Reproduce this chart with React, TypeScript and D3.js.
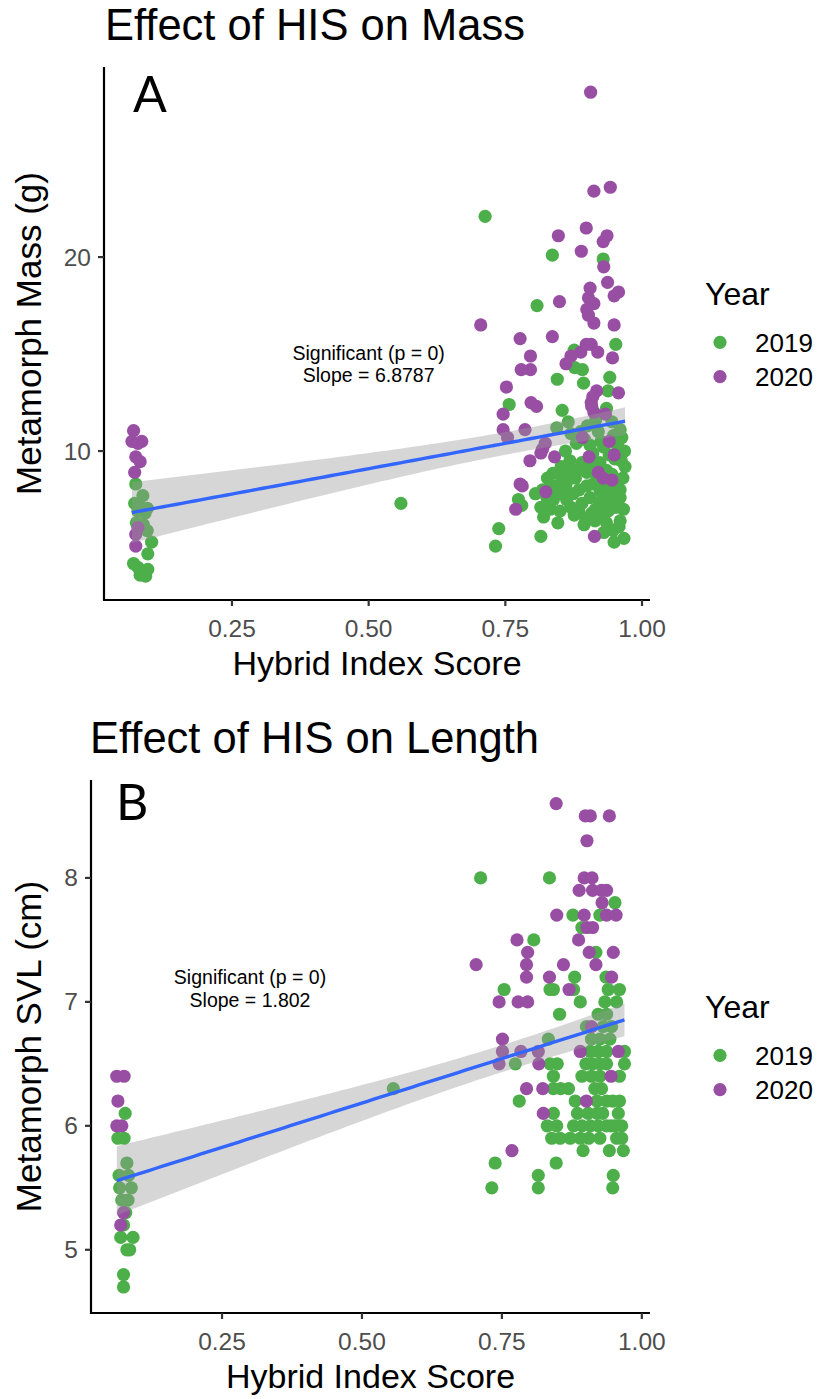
import React from 'react';
import * as d3 from 'd3';

type Pt = [number, number];

const YEARS = ['2019', '2020'];
const YEAR_COLORS = ['#4DAF4A', '#984EA3'];

const X_TICKS = [0.25, 0.5, 0.75, 1.0];
const MASS_TICKS = [10, 20];
const SVL_TICKS = [5, 6, 7, 8];

// Metamorph mass (g) against hybrid index score, 2019 cohort
const mass2019: Pt[] = [
  [0.074, 8.3], [0.087, 7.7], [0.072, 7.3], [0.082, 7.1], [0.095, 7.05], [0.078, 6.9], [0.091, 6.8],
  [0.075, 6.3], [0.088, 6.2], [0.095, 5.9], [0.103, 5.3], [0.096, 4.7], [0.070, 4.2], [0.078, 4.0],
  [0.088, 3.8], [0.096, 3.9], [0.082, 3.6], [0.092, 3.55],
  [0.559, 7.3],
  [0.713, 22.1], [0.836, 20.1], [0.929, 19.9], [0.808, 17.5], [0.952, 15.5], [0.876, 15.2], [0.877, 14.3],
  [0.891, 14.2], [0.845, 13.7], [0.893, 13.5], [0.941, 13.8], [0.938, 13.1], [0.757, 12.4], [0.854, 12.1],
  [0.935, 12.2], [0.960, 11.1], [0.963, 10.7], [0.968, 10.0], [0.969, 9.2], [0.774, 7.5], [0.780, 7.2],
  [0.815, 7.1], [0.738, 6.0], [0.732, 5.1], [0.815, 5.6], [0.846, 6.3], [0.876, 6.7], [0.894, 6.2],
  [0.949, 5.3], [0.967, 5.5],
  [0.868, 9.5], [0.837, 8.85], [0.850, 8.85], [0.890, 9.4], [0.899, 8.9], [0.923, 9.4], [0.935, 9.0],
  [0.945, 8.8], [0.832, 8.2], [0.847, 8.25], [0.861, 8.3], [0.856, 7.8], [0.874, 7.8], [0.890, 7.3],
  [0.899, 8.2], [0.911, 8.3], [0.923, 8.0], [0.935, 8.2], [0.947, 7.8], [0.960, 8.0], [0.960, 7.6],
  [0.966, 7.0], [0.960, 6.4], [0.938, 6.9], [0.923, 7.3], [0.923, 6.7], [0.908, 6.8], [0.935, 6.3],
  [0.947, 5.9], [0.850, 6.9], [0.832, 7.0], [0.826, 7.6], [0.838, 7.5], [0.862, 7.5], [0.914, 6.4],
  [0.844, 11.2], [0.870, 10.9], [0.900, 11.3], [0.920, 11.0], [0.945, 11.5], [0.955, 10.3], [0.930, 10.2],
  [0.910, 9.9], [0.880, 10.4], [0.950, 9.6], [0.860, 10.0], [0.895, 10.6],
  [0.852, 9.2], [0.864, 8.9], [0.878, 8.6], [0.885, 8.0], [0.905, 7.6], [0.915, 7.0], [0.928, 7.7],
  [0.940, 7.4], [0.952, 7.1], [0.955, 8.4], [0.965, 8.6], [0.918, 8.7], [0.905, 9.2], [0.880, 9.0],
  [0.870, 7.1], [0.884, 6.9], [0.897, 6.5], [0.930, 5.8], [0.958, 6.1], [0.940, 9.8], [0.962, 9.5],
  [0.925, 10.5], [0.905, 10.3], [0.888, 11.0], [0.948, 10.8], [0.915, 11.6], [0.865, 11.5], [0.843, 8.0],
  [0.827, 8.6], [0.818, 8.0], [0.820, 6.6], [0.805, 7.8],
];

// Metamorph mass (g) against hybrid index score, 2020 cohort
const mass2020: Pt[] = [
  [0.070, 11.05], [0.067, 10.5], [0.085, 10.5], [0.078, 10.4], [0.074, 9.7], [0.082, 9.45], [0.072, 8.9],
  [0.078, 6.05], [0.074, 5.7], [0.074, 5.1],
  [0.906, 28.5], [0.912, 23.4], [0.942, 23.6], [0.847, 21.1], [0.898, 21.5], [0.936, 21.1], [0.929, 20.8],
  [0.889, 20.3], [0.930, 19.5], [0.937, 18.7], [0.905, 18.4], [0.957, 18.2], [0.949, 18.0], [0.902, 17.9],
  [0.912, 17.6], [0.849, 17.7], [0.899, 17.3], [0.902, 17.0], [0.912, 16.6], [0.949, 16.5], [0.705, 16.5],
  [0.777, 15.8], [0.836, 15.9], [0.898, 15.5], [0.907, 15.5], [0.888, 15.1], [0.919, 15.1], [0.796, 14.9],
  [0.870, 14.9], [0.946, 14.8], [0.861, 14.5], [0.796, 14.2], [0.779, 14.2], [0.752, 13.3], [0.917, 13.1],
  [0.910, 12.8], [0.907, 12.5], [0.908, 12.3], [0.912, 12.0], [0.957, 13.0], [0.797, 12.5], [0.807, 12.3],
  [0.746, 11.9], [0.933, 11.9], [0.746, 11.1], [0.786, 11.1], [0.754, 10.7], [0.891, 10.7], [0.823, 10.4],
  [0.818, 10.1], [0.815, 9.9], [0.940, 10.5], [0.795, 9.5], [0.840, 9.7], [0.903, 9.7], [0.949, 9.8],
  [0.920, 8.9], [0.929, 8.6], [0.945, 8.5], [0.777, 8.3], [0.781, 8.2], [0.824, 7.9], [0.769, 7.0],
  [0.913, 5.6],
];

// Snout-vent length (cm) against hybrid index score, 2019 cohort
const svl2019: Pt[] = [
  [0.077, 6.1], [0.064, 5.9], [0.075, 5.9], [0.080, 5.7], [0.066, 5.6], [0.083, 5.6], [0.067, 5.5],
  [0.088, 5.5], [0.071, 5.4], [0.082, 5.4], [0.078, 5.3], [0.074, 5.2], [0.069, 5.1], [0.091, 5.1],
  [0.085, 5.0], [0.080, 5.0], [0.074, 4.8], [0.074, 4.7],
  [0.556, 6.3],
  [0.712, 8.0], [0.835, 8.0], [0.952, 7.8], [0.877, 7.7], [0.925, 7.7], [0.893, 7.6], [0.807, 7.5],
  [0.918, 7.4], [0.880, 7.2], [0.936, 7.2],
  [0.754, 7.1], [0.836, 7.1], [0.842, 7.1], [0.878, 7.1], [0.940, 7.1], [0.960, 7.1],
  [0.890, 7.0], [0.934, 7.0], [0.955, 7.0],
  [0.853, 6.9], [0.922, 6.9], [0.937, 6.9],
  [0.901, 6.8], [0.931, 6.8], [0.946, 6.8],
  [0.833, 6.7], [0.910, 6.7], [0.925, 6.7], [0.943, 6.7],
  [0.969, 6.6], [0.908, 6.6], [0.922, 6.6], [0.937, 6.6],
  [0.774, 6.5], [0.836, 6.5], [0.849, 6.5], [0.900, 6.5], [0.912, 6.5], [0.925, 6.5], [0.937, 6.5], [0.969, 6.5],
  [0.842, 6.4], [0.893, 6.4], [0.910, 6.4], [0.925, 6.4], [0.960, 6.4],
  [0.842, 6.3], [0.855, 6.3], [0.869, 6.3], [0.916, 6.3], [0.928, 6.3],
  [0.781, 6.2], [0.881, 6.2], [0.920, 6.2], [0.937, 6.2], [0.948, 6.2], [0.960, 6.2],
  [0.842, 6.1], [0.885, 6.1], [0.904, 6.1], [0.920, 6.1], [0.930, 6.1], [0.958, 6.1],
  [0.831, 6.0], [0.848, 6.0], [0.878, 6.0], [0.893, 6.0], [0.908, 6.0], [0.922, 6.0], [0.937, 6.0],
  [0.945, 6.0], [0.952, 6.0], [0.964, 6.0],
  [0.839, 5.9], [0.854, 5.9], [0.872, 5.9], [0.890, 5.9], [0.905, 5.9], [0.925, 5.9], [0.955, 5.9], [0.964, 5.9],
  [0.895, 5.8], [0.942, 5.8], [0.967, 5.8],
  [0.738, 5.7], [0.847, 5.7],
  [0.815, 5.6], [0.949, 5.6],
  [0.732, 5.5], [0.815, 5.5], [0.948, 5.5],
];

// Snout-vent length (cm) against hybrid index score, 2020 cohort
const svl2020: Pt[] = [
  [0.062, 6.4], [0.075, 6.4], [0.064, 6.2], [0.062, 6.0], [0.071, 6.0], [0.074, 5.3], [0.069, 5.2],
  [0.847, 8.6], [0.899, 8.5], [0.908, 8.5], [0.942, 8.5], [0.902, 8.3],
  [0.897, 8.0], [0.911, 8.0],
  [0.888, 7.9], [0.912, 7.9], [0.928, 7.9], [0.937, 7.9],
  [0.929, 7.8],
  [0.848, 7.7], [0.897, 7.7], [0.937, 7.7], [0.954, 7.7],
  [0.902, 7.6], [0.912, 7.6],
  [0.777, 7.5], [0.887, 7.5],
  [0.796, 7.4], [0.906, 7.4], [0.949, 7.4],
  [0.704, 7.3], [0.794, 7.3], [0.860, 7.3], [0.918, 7.3],
  [0.794, 7.2], [0.835, 7.2], [0.946, 7.2],
  [0.870, 7.1],
  [0.745, 7.0], [0.779, 7.0], [0.796, 7.0],
  [0.910, 6.8],
  [0.751, 6.7],
  [0.751, 6.6], [0.784, 6.6], [0.815, 6.6], [0.890, 6.6], [0.958, 6.6],
  [0.745, 6.5], [0.816, 6.5],
  [0.945, 6.4],
  [0.794, 6.3], [0.823, 6.3],
  [0.901, 6.2],
  [0.824, 6.1],
  [0.768, 5.8],
];

const X_DOMAIN: [number, number] = [0.0159, 1.0146];
const MASS_DOMAIN: [number, number] = [2.32, 29.8];
const SVL_DOMAIN: [number, number] = [4.49, 8.79];

const FONT = '"Liberation Sans", Arial, Helvetica, sans-serif';

// ordinary least squares fit with a 95% confidence band, as geom_smooth(method = "lm")
function lmBand(points: Pt[]) {
  const n = points.length;
  const xbar = d3.mean(points, (p) => p[0]) as number;
  const ybar = d3.mean(points, (p) => p[1]) as number;
  let sxx = 0;
  let sxy = 0;
  for (const [x, y] of points) {
    sxx += (x - xbar) ** 2;
    sxy += (x - xbar) * (y - ybar);
  }
  const b = sxy / sxx;
  const a = ybar - b * xbar;
  let sse = 0;
  for (const [x, y] of points) sse += (y - (a + b * x)) ** 2;
  const df = n - 2;
  const s = Math.sqrt(sse / df);
  const t = 1.96 + 2.4 / df;
  const [x0, x1] = d3.extent(points, (p) => p[0]) as [number, number];
  return d3.range(80).map((i) => {
    const x = x0 + ((x1 - x0) * i) / 79;
    const fit = a + b * x;
    const se = s * Math.sqrt(1 / n + (x - xbar) ** 2 / sxx);
    return { x, fit, lo: fit - t * se, hi: fit + t * se };
  });
}

type PanelProps = {
  title: string;
  tag: string;
  yLabel: string;
  series: Pt[][];
  yDomain: [number, number];
  yTicks: number[];
  note: [string, string];
  noteAt: Pt;
  left: number;
  right: number;
  top: number;
  bottom: number;
  titleX: number;
  tagX: number;
  tagY: number;
};

function Panel(p: PanelProps) {
  const x = d3.scaleLinear().domain(X_DOMAIN).range([p.left, p.right]);
  const y = d3.scaleLinear().domain(p.yDomain).range([p.bottom, p.top]);
  const band = lmBand(p.series.flat());
  const area = d3
    .area<{ x: number; lo: number; hi: number }>()
    .x((d) => x(d.x))
    .y0((d) => y(d.lo))
    .y1((d) => y(d.hi));
  const line = d3
    .line<{ x: number; fit: number }>()
    .x((d) => x(d.x))
    .y((d) => y(d.fit));
  const midX = (p.left + p.right) / 2;
  const midY = (p.top + p.bottom) / 2;
  const legendX = 705;
  const nx = x(p.noteAt[0]);
  const ny = y(p.noteAt[1]);

  return (
    <g fontFamily={FONT}>
      <text x={p.titleX} y={p.top - 27} fontSize={43.5} fill="#000">
        {p.title}
      </text>

      {p.series.map((pts, si) =>
        pts.map((d, i) => (
          <circle key={`${si}-${i}`} cx={x(d[0])} cy={y(d[1])} r={6.6} fill={YEAR_COLORS[si]} />
        ))
      )}

      <path d={area(band) ?? ''} fill="#999999" fillOpacity={0.4} />
      <path d={line(band) ?? ''} fill="none" stroke="#3366FF" strokeWidth={3.4} />

      <text x={nx} y={ny - 4} fontSize={19.5} textAnchor="middle" fill="#000">
        {p.note[0]}
      </text>
      <text x={nx} y={ny + 18.5} fontSize={19.5} textAnchor="middle" fill="#000">
        {p.note[1]}
      </text>

      <text x={p.tagX} y={p.tagY} fontSize={50} fontFamily="Lato, 'Open Sans', sans-serif" fill="#000">
        {p.tag}
      </text>

      <line x1={p.left} x2={p.left} y1={p.top} y2={p.bottom + 1} stroke="#000" strokeWidth={2.2} />
      <line x1={p.left - 1} x2={p.right} y1={p.bottom} y2={p.bottom} stroke="#000" strokeWidth={2.2} />

      {X_TICKS.map((t) => (
        <g key={t}>
          <line x1={x(t)} x2={x(t)} y1={p.bottom} y2={p.bottom + 6} stroke="#333" strokeWidth={2.2} />
          <text x={x(t)} y={p.bottom + 37} fontSize={24.5} textAnchor="middle" fill="#4D4D4D">
            {d3.format('.2f')(t)}
          </text>
        </g>
      ))}
      {p.yTicks.map((t) => (
        <g key={t}>
          <line x1={p.left - 6} x2={p.left} y1={y(t)} y2={y(t)} stroke="#333" strokeWidth={2.2} />
          <text x={p.left - 13} y={y(t) + 8.5} fontSize={24.5} textAnchor="end" fill="#4D4D4D">
            {t}
          </text>
        </g>
      ))}

      <text x={midX} y={p.bottom + 75} fontSize={34} textAnchor="middle" fill="#000">
        Hybrid Index Score
      </text>
      <text
        transform={`translate(41, ${midY}) rotate(-90)`}
        fontSize={35}
        textAnchor="middle"
        fill="#000"
      >
        {p.yLabel}
      </text>

      <text x={legendX} y={midY - 28.5} fontSize={32} fill="#000">
        Year
      </text>
      {YEARS.map((yr, i) => (
        <g key={yr}>
          <circle cx={legendX + 15} cy={midY + 8.8 + i * 34.4} r={6.6} fill={YEAR_COLORS[i]} />
          <text x={legendX + 50} y={midY + 18.3 + i * 34.4} fontSize={26} fill="#000">
            {yr}
          </text>
        </g>
      ))}
    </g>
  );
}

export default function App() {
  return (
    <svg
      width={820}
      height={1399}
      style={{ position: 'absolute', left: 0, top: 0, background: '#fff' }}
    >
      <rect width={820} height={1399} fill="#fff" />
      <Panel
        title="Effect of HIS on Mass"
        tag="A"
        yLabel="Metamorph Mass (g)"
        series={[mass2019, mass2020]}
        yDomain={MASS_DOMAIN}
        yTicks={MASS_TICKS}
        note={['Significant (p = 0)', 'Slope = 6.8787']}
        noteAt={[0.5, 14.5]}
        left={104}
        right={650}
        top={67}
        bottom={600}
        titleX={105}
        tagX={133}
        tagY={112}
      />
      <Panel
        title="Effect of HIS on Length"
        tag="B"
        yLabel="Metamorph SVL (cm)"
        series={[svl2019, svl2020]}
        yDomain={SVL_DOMAIN}
        yTicks={SVL_TICKS}
        note={['Significant (p = 0)', 'Slope = 1.802']}
        noteAt={[0.3, 7.11]}
        left={91}
        right={650}
        top={780}
        bottom={1313}
        titleX={90}
        tagX={116}
        tagY={820}
      />
    </svg>
  );
}
